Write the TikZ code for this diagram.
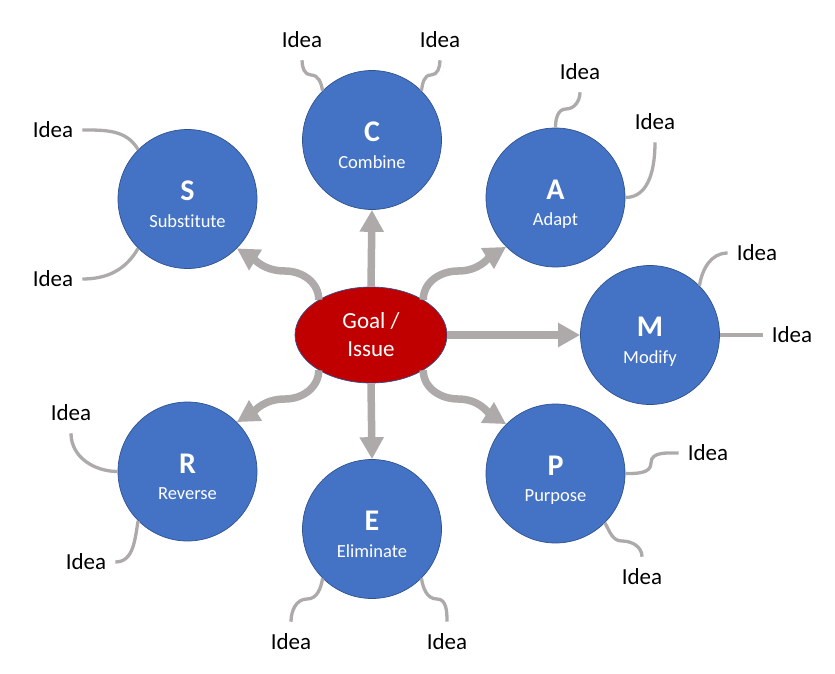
\documentclass[tikz,border=0pt]{standalone}
\usepackage{fontspec}
\setmainfont{Carlito}[Ligatures=NoCommon]
\usepackage{tikz}
\usetikzlibrary{shapes.geometric,arrows.meta,positioning,calc}
\definecolor{ballblue}{HTML}{4472C4}
\definecolor{ballrim}{HTML}{2F528F}
\definecolor{goalred}{HTML}{C00000}
\definecolor{arrowgray}{HTML}{AEAAAA}
\tikzset{
  ball/.style={circle,fill=ballblue,draw=ballrim,line width=0.7pt,
    minimum size=139pt,inner sep=0pt},
  letter/.style={text=white,font=\bfseries\fontsize{30}{32}\selectfont,
    text height=19pt,text depth=0pt,yshift=8pt},
  word/.style={text=white,font=\fontsize{18.5}{20}\selectfont,
    text height=12pt,text depth=4pt,yshift=-24pt},
  goal/.style={ellipse,fill=goalred,draw=ballrim,line width=0.7pt,
    minimum width=152pt,minimum height=96pt,inner sep=0pt,
    text=white,align=center,font=\fontsize{23}{28}\selectfont},
  idea/.style={font=\fontsize{23}{26}\selectfont,inner xsep=9pt,inner ysep=12pt},
  bigarrow/.style={draw=arrowgray,line width=7.5pt,
    -{Triangle[width=23pt,length=22pt]}},
  twig/.style={draw=arrowgray,line width=3.3pt}
}

\begin{document}
\begin{tikzpicture}[x=1pt,y=1pt]
  \useasboundingbox (0,0) rectangle (835,-674);

  % centre and the seven balls
  \node[goal] (goal) at (371,-335) {Goal /\\Issue};
  \node[ball,label={[letter]center:S},label={[word]center:Substitute}] (S) at (187.5,-199) {};
  \node[ball,label={[letter]center:C},label={[word]center:Combine}] (C) at (372,-140) {};
  \node[ball,label={[letter]center:A},label={[word]center:Adapt}] (A) at (555.5,-197.5) {};
  \node[ball,label={[letter]center:M},label={[word]center:Modify}] (M) at (650,-335) {};
  \node[ball,label={[letter]center:P},label={[word]center:Purpose}] (P) at (555.5,-473.5) {};
  \node[ball,label={[letter]center:E},label={[word]center:Eliminate}] (E) at (372,-529) {};
  \node[ball,label={[letter]center:R},label={[word]center:Reverse}] (R) at (187.5,-471.5) {};

  % arrows out of the goal
  \draw[bigarrow] (goal.north) -- (C.south);
  \draw[bigarrow] (goal.south) -- (E.north);
  \draw[bigarrow] (goal.east) -- (M.west);
  \draw[bigarrow] (goal.34) to[out=90,in=180] (458,-271) to[out=0,in=212] (A.225);
  \draw[bigarrow] (goal.146) to[out=90,in=0] (285,-271) to[out=180,in=-32] (S.-45);
  \draw[bigarrow] (goal.214) to[out=-90,in=0] (285,-399) to[out=180,in=32] (R.45);
  \draw[bigarrow] (goal.-34) to[out=-90,in=180] (458,-399) to[out=0,in=148] (P.135);

  % ideas
  \node[idea] (iS1) at (53,-130) {Idea};
  \node[idea] (iS2) at (53,-279) {Idea};
  \node[idea] (iC1) at (302,-40) {Idea};
  \node[idea] (iC2) at (440,-40) {Idea};
  \node[idea] (iA1) at (580,-72) {Idea};
  \node[idea] (iA2) at (655,-122) {Idea};
  \node[idea] (iM1) at (757,-253) {Idea};
  \node[idea] (iM2) at (792,-335) {Idea};
  \node[idea] (iP1) at (708,-453) {Idea};
  \node[idea] (iP2) at (642,-577) {Idea};
  \node[idea] (iE1) at (291,-642) {Idea};
  \node[idea] (iE2) at (447,-642) {Idea};
  \node[idea] (iR1) at (71,-413) {Idea};
  \node[idea] (iR2) at (86,-562) {Idea};

  \draw[twig] (iS1.east) to[out=0,in=120] (S.135);
  \draw[twig] (iS2.east) to[out=0,in=-120] (S.-135);
  \draw[twig] (iC1.south) to[out=-90,in=180] (311,-75) to[out=0,in=100] (C.135);
  \draw[twig] (iC2.south) to[out=-90,in=0] (431,-75) to[out=180,in=80] (C.45);
  \draw[twig] (iA1.south) to[out=-90,in=0] (566,-109) to[out=180,in=90] (A.90);
  \draw[twig] (iA2.south) to[out=-90,in=0] (A.0);
  \draw[twig] (iM1.west) to[out=180,in=80] (M.45);
  \draw[twig] (iM2.west) to[out=180,in=0] (M.east);
  \draw[twig] (iP1.west) to[out=180,in=90] (651,-463) to[out=-90,in=0] (P.0);
  \draw[twig] (iP2.north) to[out=90,in=0] (622,-541) to[out=180,in=-60] (P.-45);
  \draw[twig] (iE1.north) to[out=90,in=180] (307,-599) to[out=0,in=-100] (E.-135);
  \draw[twig] (iE2.north) to[out=90,in=0] (437,-599) to[out=180,in=-80] (E.-45);
  \draw[twig] (iR1.south) to[out=-90,in=180] (R.west);
  \draw[twig] (iR2.east) to[out=0,in=-100] (R.-135);
\end{tikzpicture}
\end{document}
